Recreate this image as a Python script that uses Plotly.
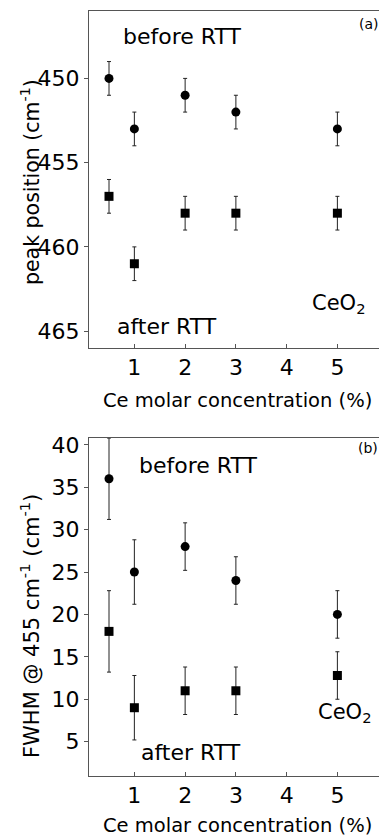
import plotly.graph_objects as go
from plotly.subplots import make_subplots

conc = [0.5, 1, 2, 3, 5]

peak_before = [450, 453, 451, 452, 453]
peak_before_err = [1, 1, 1, 1, 1]
peak_after = [457, 461, 458, 458, 458]
peak_after_err = [1, 1, 1, 1, 1]

fwhm_before = [36, 25, 28, 24, 20]
fwhm_before_err = [4.8, 3.8, 2.8, 2.8, 2.8]
fwhm_after = [18, 9, 11, 11, 12.8]
fwhm_after_err = [4.8, 3.8, 2.8, 2.8, 2.8]

x_ticks = [1, 2, 3, 4, 5]
peak_ticks = [450, 455, 460, 465]
fwhm_ticks = [5, 10, 15, 20, 25, 30, 35, 40]

FONT = "DejaVu Sans, Arial, sans-serif"
AX = "#555555"

fig = make_subplots(rows=2, cols=1, vertical_spacing=0.0)

def add(row, y, err, symbol):
    fig.add_trace(go.Scatter(
        x=conc, y=y, mode="markers",
        marker=dict(symbol=symbol, size=9, color="black"),
        error_y=dict(type="data", array=err, visible=True, color="#222222", thickness=1, width=2),
        showlegend=False), row=row, col=1)

add(1, peak_before, peak_before_err, "circle")
add(1, peak_after, peak_after_err, "square")
add(2, fwhm_before, fwhm_before_err, "circle")
add(2, fwhm_after, fwhm_after_err, "square")

xcommon = dict(range=[0.106, 5.82], tickvals=x_ticks, showline=True, linecolor=AX, linewidth=1,
               mirror=True, ticks="inside", ticklen=4, tickcolor=AX, showgrid=False, zeroline=False,
               tickfont=dict(family=FONT, size=22, color="black"))
ycommon = dict(showline=True, linecolor=AX, linewidth=1, mirror=False, ticks="outside", ticklen=4,
               tickcolor=AX, showgrid=False, zeroline=False,
               tickfont=dict(family=FONT, size=22, color="black"))

fig.update_layout(
    width=379, height=838, margin=dict(l=89, r=0, t=11, b=62),
    paper_bgcolor="white", plot_bgcolor="white",
    xaxis=dict(**xcommon, anchor="y"),
    xaxis2=dict(**xcommon, anchor="y2"),
    yaxis=dict(**ycommon, range=[466, 446], tickvals=peak_ticks, domain=[0.5595, 1.0]),
    yaxis2=dict(**ycommon, range=[0.95, 40.8], tickvals=fwhm_ticks, domain=[0.0, 0.4418]),
    font=dict(family=FONT, color="black"),
)

def txt(x, y, text, xref, yref, size=22, xanchor="left"):
    fig.add_annotation(x=x, y=y, xref=xref, yref=yref, text=text, showarrow=False,
                       xanchor=xanchor, yanchor="middle", font=dict(family=FONT, size=size, color="black"))

# panel a labels
txt(0.744, 447.5, "before RTT", "x", "y")
txt(0.626, 464.7, "after RTT", "x", "y")
txt(4.465, 463.4, "CeO<sub>2</sub>", "x", "y", size=21)
txt(5.39, 446.8, "(a)", "x", "y", size=14)
# panel b labels
txt(1.06, 37.6, "before RTT", "x2", "y2")
txt(1.10, 3.78, "after RTT", "x2", "y2")
txt(4.58, 8.4, "CeO<sub>2</sub>", "x2", "y2", size=21)
txt(5.37, 39.6, "(b)", "x2", "y2", size=14)

H = 765.0
def py(p):
    return (776 - p) / H
def px(p):
    return (p - 89) / 290.0

for yy in (400, 825):
    fig.add_annotation(x=px(237), y=py(yy), xref="paper", yref="paper", text="Ce molar concentration (%)",
                       showarrow=False, xanchor="center", yanchor="middle",
                       font=dict(family=FONT, size=19.5, color="black"))
fig.add_annotation(x=px(30), y=py(182), xref="paper", yref="paper", text="peak position (cm<sup>-1</sup>)",
                   showarrow=False, textangle=-90, xanchor="center", yanchor="middle",
                   font=dict(family=FONT, size=20.5, color="black"))
fig.add_annotation(x=px(30), y=py(626), xref="paper", yref="paper", text="FWHM @ 455 cm<sup>-1</sup> (cm<sup>-1</sup>)",
                   showarrow=False, textangle=-90, xanchor="center", yanchor="middle",
                   font=dict(family=FONT, size=21, color="black"))

fig.write_html("out.html")
